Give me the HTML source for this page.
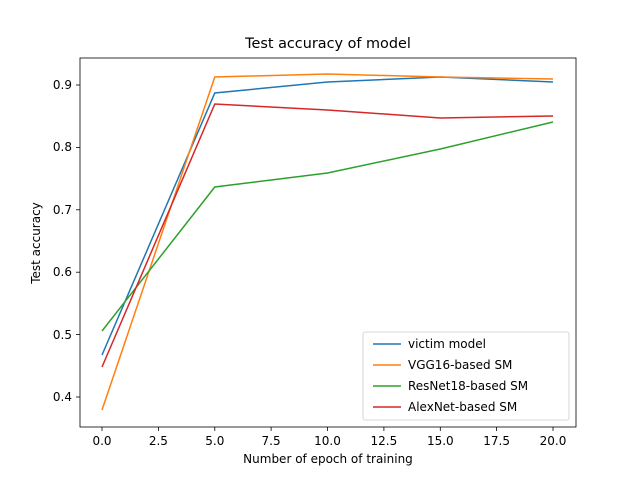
<!DOCTYPE html>
<html><head><style>body{margin:0;background:#fff}svg{display:block}text{font-family:"DejaVu Sans","Liberation Sans",sans-serif;fill:#000}</style></head><body>
<svg width="640" height="480" viewBox="0 0 640 480" xmlns="http://www.w3.org/2000/svg">
<rect width="640" height="480" fill="#fff"/>
<text x="328" y="48" font-size="14.4" text-anchor="middle">Test accuracy of model</text>
<g stroke="#000" stroke-width="0.8">
<line x1="102" y1="427" x2="102" y2="431"/><line x1="158.4" y1="427" x2="158.4" y2="431"/><line x1="214.8" y1="427" x2="214.8" y2="431"/><line x1="271.1" y1="427" x2="271.1" y2="431"/><line x1="327.5" y1="427" x2="327.5" y2="431"/><line x1="383.9" y1="427" x2="383.9" y2="431"/><line x1="440.3" y1="427" x2="440.3" y2="431"/><line x1="496.6" y1="427" x2="496.6" y2="431"/><line x1="553" y1="427" x2="553" y2="431"/>
<line x1="76" y1="397" x2="80" y2="397"/><line x1="76" y1="334.6" x2="80" y2="334.6"/><line x1="76" y1="272.2" x2="80" y2="272.2"/><line x1="76" y1="209.8" x2="80" y2="209.8"/><line x1="76" y1="147.4" x2="80" y2="147.4"/><line x1="76" y1="85" x2="80" y2="85"/>
</g>
<g font-size="12" text-anchor="middle">
<text x="102" y="445">0.0</text><text x="158.4" y="445">2.5</text><text x="214.8" y="445">5.0</text><text x="271.1" y="445">7.5</text><text x="327.5" y="445">10.0</text><text x="383.9" y="445">12.5</text><text x="440.3" y="445">15.0</text><text x="496.6" y="445">17.5</text><text x="553" y="445">20.0</text>
</g>
<g font-size="12" text-anchor="end">
<text x="72" y="401">0.4</text><text x="72" y="339">0.5</text><text x="72" y="276">0.6</text><text x="72" y="214">0.7</text><text x="72" y="151">0.8</text><text x="72" y="89">0.9</text>
</g>
<text x="328" y="463" font-size="12" text-anchor="middle">Number of epoch of training</text>
<text transform="translate(40,243) rotate(-90)" font-size="12" text-anchor="middle">Test accuracy</text>
<g fill="none" stroke-width="1.5">
<polyline stroke="#1f77b4" points="102,355 214.8,93 327.5,82 440.3,77 553,82"/>
<polyline stroke="#ff7f0e" points="102,410 214.8,77 327.5,74 440.3,77 553,79"/>
<polyline stroke="#2ca02c" points="102,331 214.8,187 327.5,173 440.3,149 553,122"/>
<polyline stroke="#d62728" points="102,367 214.8,104 327.5,110 440.3,118 553,116"/>
</g>
<rect x="80" y="58" width="496" height="369" fill="none" stroke="#000" stroke-width="0.8"/>
<rect x="363" y="332" width="206" height="88" rx="2" fill="#fff" fill-opacity="0.8" stroke="#ccc" stroke-width="0.8"/>
<g stroke-width="1.5">
<line x1="373" y1="344" x2="401" y2="344" stroke="#1f77b4"/>
<line x1="373" y1="365" x2="401" y2="365" stroke="#ff7f0e"/>
<line x1="373" y1="386" x2="401" y2="386" stroke="#2ca02c"/>
<line x1="373" y1="407" x2="401" y2="407" stroke="#d62728"/>
</g>
<g font-size="12">
<text x="408" y="348">victim model</text>
<text x="408" y="369">VGG16-based SM</text>
<text x="408" y="390">ResNet18-based SM</text>
<text x="408" y="411">AlexNet-based SM</text>
</g>
</svg>
</body></html>
